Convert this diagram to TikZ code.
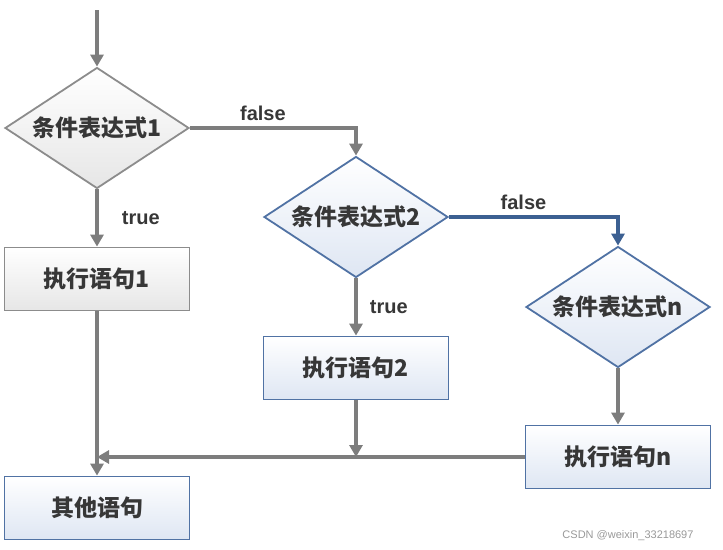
\documentclass[tikz,border=0pt]{standalone}
\usepackage{fontspec}
\setmainfont{Liberation Sans}
\newfontfamily\cjk{Noto Sans CJK SC}
\usetikzlibrary{arrows.meta, shapes.geometric, positioning}
\definecolor{lineGray}{RGB}{125,125,125}
\definecolor{lineBlue}{RGB}{60,96,146}
\definecolor{edgeGray}{RGB}{140,140,140}
\definecolor{edgeBlue}{RGB}{80,114,164}
\definecolor{fillGray}{RGB}{230,230,230}
\definecolor{fillBlue}{RGB}{222,230,243}
\definecolor{textGray}{RGB}{55,55,55}
\def\boxW{185}
\def\boxH{63}
\def\decW{184}
\def\decH{121}

\tikzset{
  base/.style={font=\cjk\bfseries\fontsize{23}{27}\selectfont, text=textGray, line width=1.8pt, inner sep=1pt},
  grayBox/.style={base, rectangle, draw=edgeGray, top color=white, bottom color=fillGray,
    minimum width=\boxW pt, minimum height=\boxH pt},
  blueBox/.style={base, rectangle, draw=edgeBlue, top color=white, bottom color=fillBlue,
    minimum width=\boxW pt, minimum height=\boxH pt},
  grayDec/.style={base, diamond, aspect=1.52, draw=edgeGray, top color=white, bottom color=fillGray,
    minimum width=\decW pt, minimum height=\decH pt},
  blueDec/.style={base, diamond, aspect=1.52, draw=edgeBlue, top color=white, bottom color=fillBlue,
    minimum width=\decW pt, minimum height=\decH pt},
  flow/.style={draw=lineGray, line width=3.3pt, -{Triangle[width=13pt,length=12pt]}},
  flowBlue/.style={flow, draw=lineBlue},
  tag/.style={font=\bfseries\fontsize{20}{24}\selectfont, text=textGray}
}

\begin{document}
\begin{tikzpicture}[x=1pt, y=-1pt]
  \useasboundingbox (0,0) rectangle (723,549);

  % Conditions
  \node[grayDec] (cond1) at (97,128) {条件表达式1};
  \node[blueDec] (cond2) at (356,217) {条件表达式2};
  \node[blueDec] (condN) at (618,307) {条件表达式n};

  % Statements
  \node[grayBox] (stmt1) at (97,279) {执行语句1};
  \node[blueBox] (stmt2) at (356,368) {执行语句2};
  \node[blueBox] (stmtN) at (618,457) {执行语句n};
  \node[blueBox] (other) at (97,508) {其他语句};

  \coordinate (entry) at (97,10);
  \coordinate (join1) at (97,457);
  \coordinate (join2) at (356,457);

  % Flow lines
  \draw[flow] (entry) -- (cond1.north);
  \draw[flow] (cond1.east) -| (cond2.north)
    node[tag, pos=0.25, above=2pt, xshift=-10pt] {false};
  \draw[flowBlue] (cond2.east) -| (condN.north)
    node[tag, pos=0.25, above=2pt, xshift=-10pt] {false};
  \draw[flow] (cond1.south) -- (stmt1.north)
    node[tag, midway, right=20pt] {true};
  \draw[flow] (cond2.south) -- (stmt2.north)
    node[tag, midway, right=9pt] {true};
  \draw[flow] (condN.south) -- (stmtN.north);
  \draw[flow] (stmt1.south) -- (other.north);
  \draw[flow] (stmt2.south) -- (join2);
  \draw[flow] (stmtN.west) -- (join1);

  % Watermark
  \node[font=\fontsize{11}{13}\selectfont, text=gray!80] (mark) at (628,536) {CSDN @weixin\_33218697};
\end{tikzpicture}
\end{document}
